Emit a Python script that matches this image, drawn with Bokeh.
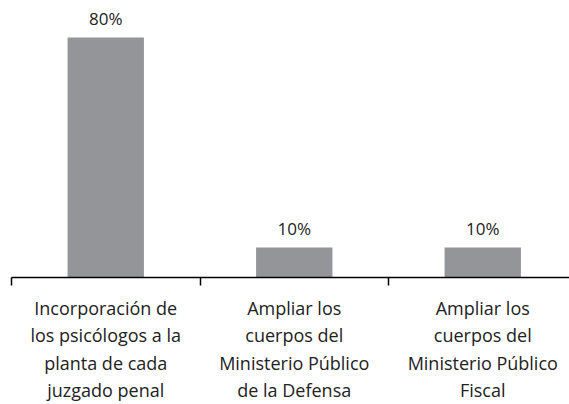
from bokeh.plotting import figure
from bokeh.models import Range1d, FixedTicker, ColumnDataSource
from bokeh.core.properties import value
from bokeh.embed import file_html
from bokeh.resources import INLINE

categories = [
    "Incorporación de\nlos psicólogos a la\nplanta de cada\njuzgado penal",
    "Ampliar los\ncuerpos del\nMinisterio Público\nde la Defensa",
    "Ampliar los\ncuerpos del\nMinisterio Público\nFiscal",
]
values = [80, 10, 10]
labels = ["80%", "10%", "10%"]

centers = [i + 0.5 for i in range(len(categories))]
boundaries = [i for i in range(len(categories) + 1)]

FONT = "Open Sans"
CAT_W = 188.5
FRAME_W = 558
FRAME_H = 269
PX_PER_UNIT = 3.0

p = figure(frame_width=FRAME_W, frame_height=FRAME_H, output_backend="svg",
           toolbar_location=None,
           x_range=Range1d(0, FRAME_W / CAT_W), y_range=Range1d(0, FRAME_H / PX_PER_UNIT))
p.min_border_left = 11
p.min_border_right = 0
p.min_border_top = 8
p.min_border_bottom = 0
p.outline_line_color = None
p.grid.visible = False
p.yaxis.visible = False

src = ColumnDataSource(dict(x=centers, top=values, label=labels))
p.vbar(x="x", top="top", width=0.405, bottom=0, source=src,
       fill_color="#939598", line_color=None)
p.text(x="x", y="top", text="label", source=src, text_align="center",
       text_baseline="bottom", y_offset=-8, text_font=value(FONT),
       text_font_size="17px", text_color="#222222")

ax = p.xaxis[0]
ax.ticker = FixedTicker(ticks=centers, minor_ticks=boundaries)
ax.major_label_overrides = {c: t for c, t in zip(centers, categories)}
ax.major_tick_in = 0
ax.major_tick_out = 0
ax.minor_tick_in = 0
ax.minor_tick_out = 8
ax.minor_tick_line_color = "black"
ax.minor_tick_line_width = 1.5
ax.axis_line_color = "black"
ax.axis_line_width = 1.5
ax.major_label_standoff = 10
ax.major_label_text_font = FONT
ax.major_label_text_font_size = "18px"
ax.major_label_text_color = "#222222"
ax.major_label_text_line_height = 1.15

open("out.html", "w").write(file_html(p, INLINE))
